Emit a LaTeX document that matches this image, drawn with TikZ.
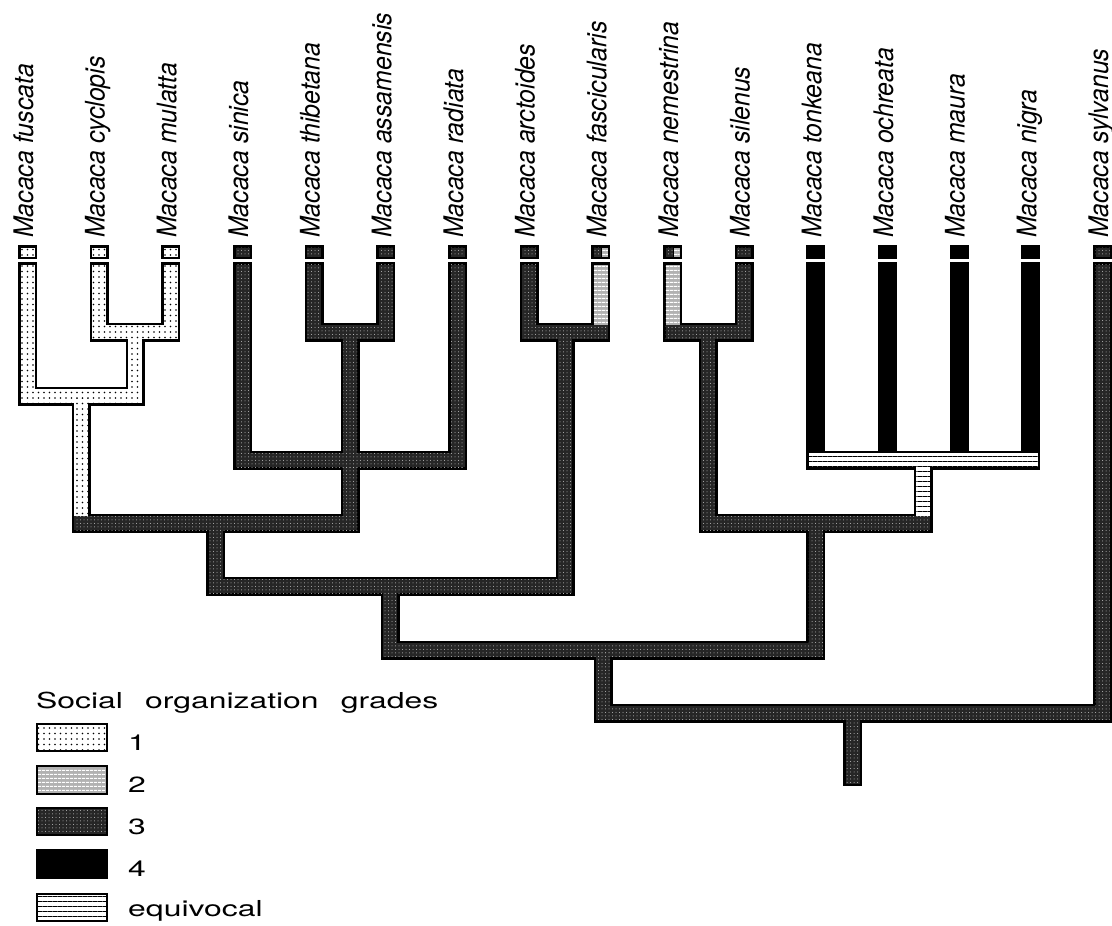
\documentclass[tikz,border=0pt]{standalone}
\usepackage{fontspec}
\setmainfont{TeX Gyre Heros}
\newfontfamily\labfont[FakeStretch=0.92]{TeX Gyre Heros}
\newfontfamily\legfont[FakeStretch=1.45,WordSpace=2.5]{TeX Gyre Heros}
\usetikzlibrary{patterns.meta}
\tikzset{
  gone/.style={preaction={fill=white}, pattern={Dots[distance=5.5pt,radius=0.9pt]}, pattern color=black},
  gtwo/.style={preaction={fill=gray!60}, pattern={Lines[angle=0,distance=4pt,line width=1.2pt]}, pattern color=white},
  gthree/.style={preaction={fill=black!85}, pattern={Dots[distance=3.5pt,radius=0.5pt]}, pattern color=gray!50},
  gfour/.style={fill=black},
  gequiv/.style={preaction={fill=white}, pattern={Lines[angle=0,distance=5pt,line width=0.9pt]}, pattern color=black},
  spname/.style={rotate=90, anchor=base west, inner sep=0pt, font=\labfont\itshape\fontsize{27}{30}\selectfont},
  legtext/.style={anchor=base west, inner sep=0pt, font=\legfont\fontsize{22}{26}\selectfont},
  legbox/.style={draw=black, line width=2.6pt},
}
\newcommand\R[5]{}
\newcommand\Tip[3]{\R{#1}{#2-9.5}{262}{#2+9.5}{#3+9.5}}
\newcommand\VS[4]{\R{#1}{#2-9.5}{#3}{#2+9.5}{#4+9.5}}
\newcommand\HB[4]{\R{#1}{#2-9.5}{#4-9.5}{#3+9.5}{#4+9.5}}
\newcommand\TreeSegs{%
 \Tip{gone}{27.5}{396}
 \Tip{gone}{99.2}{332}
 \Tip{gone}{170.8}{332}
 \Tip{gthree}{242.5}{460}
 \Tip{gthree}{314.2}{332}
 \Tip{gthree}{385.8}{332}
 \Tip{gthree}{457.5}{460}
 \Tip{gthree}{529.2}{332}
 \Tip{gtwo}{600.8}{332}
 \Tip{gtwo}{672.5}{332}
 \Tip{gthree}{744.2}{332}
 \Tip{gfour}{815.8}{460}
 \Tip{gfour}{887.5}{460}
 \Tip{gfour}{959.2}{460}
 \Tip{gfour}{1030.8}{460}
 \Tip{gthree}{1102.5}{713}
 \HB{gone}{99.2}{170.8}{332}
 \HB{gthree}{314.2}{385.8}{332}
 \HB{gthree}{529.2}{600.8}{332}
 \HB{gthree}{672.5}{744.2}{332}
 \VS{gone}{135}{332}{396}
 \VS{gthree}{350}{332}{523}
 \VS{gthree}{565}{332}{586}
 \VS{gthree}{708.3}{332}{523}
 \HB{gone}{27.5}{135}{396}
 \VS{gone}{81.25}{396}{523}
 \HB{gthree}{242.5}{457.5}{460}
 \HB{gequiv}{815.8}{1030.8}{460}
 \VS{gequiv}{923.3}{460}{523}
 \HB{gthree}{81.25}{350}{523}
 \HB{gthree}{708.3}{923.3}{523}
 \VS{gthree}{215.6}{523}{586}
 \VS{gthree}{815.8}{523}{650}
 \HB{gthree}{215.6}{565}{586}
 \VS{gthree}{390.3}{586}{650}
 \HB{gthree}{390.3}{815.8}{650}
 \VS{gthree}{603}{650}{713}
 \HB{gthree}{603}{1102.5}{713}
 \R{gthree}{843.3}{713}{862.3}{786}
}
\newcommand\TipBox[2]{\path[fill=black] ({#2-9.5},245) rectangle ({#2+9.5},259);
  \path[#1] ({#2-7},247.5) rectangle ({#2+7},256.5);}
\newcommand\TipBoxSplit[1]{\path[fill=black] ({#1-9.5},245) rectangle ({#1+9.5},259);
  \path[gthree] ({#1-7},247.5) rectangle ({#1},256.5);
  \path[gtwo] ({#1+1.5},247.5) rectangle ({#1+7},256.5);}
\begin{document}
\begin{tikzpicture}[x=1pt,y=-1pt]
\useasboundingbox (0,0) rectangle (1112,926);
% pass 1: black outlines
\renewcommand\R[5]{\fill[black] ({#2},{#3}) rectangle ({#4},{#5});}
\TreeSegs
% pass 2: grade fills
\renewcommand\R[5]{\path[#1] ({#2+2.5},{#3+2.5}) rectangle ({#4-2.5},{#5-2.5});}
\TreeSegs
% tip boxes
\TipBox{gone}{27.5}
\TipBox{gone}{99.2}
\TipBox{gone}{170.8}
\TipBox{gthree}{242.5}
\TipBox{gthree}{314.2}
\TipBox{gthree}{385.8}
\TipBox{gthree}{457.5}
\TipBox{gthree}{529.2}
\TipBoxSplit{600.8}
\TipBoxSplit{672.5}
\TipBox{gthree}{744.2}
\TipBox{gfour}{815.8}
\TipBox{gfour}{887.5}
\TipBox{gfour}{959.2}
\TipBox{gfour}{1030.8}
\TipBox{gthree}{1102.5}
% species labels
\foreach \i/\nm in {0/fuscata,1/cyclopis,2/mulatta,3/sinica,4/thibetana,5/assamensis,6/radiata,7/arctoides,8/fascicularis,9/nemestrina,10/silenus,11/tonkeana,12/ochreata,13/maura,14/nigra,15/sylvanus}
  \node[spname] (sp\i) at ({27.5+71.67*\i+5.5},238) {Macaca \nm};
% legend
\node[legtext] (legtitle) at (36,708) {Social organization grades};
\path[legbox,gone] (37,724) rectangle (107,751);
\path[legbox,gtwo] (37,766) rectangle (107,794);
\path[legbox,gthree] (37,808) rectangle (107,835);
\path[legbox,gfour] (37,850) rectangle (107,878);
\path[legbox,gequiv] (37,894) rectangle (107,921);
\node[legtext] (leg1) at (128,750) {1};
\node[legtext] (leg2) at (128,792) {2};
\node[legtext] (leg3) at (128,834) {3};
\node[legtext] (leg4) at (128,876) {4};
\node[legtext] (leg5) at (128,916) {equivocal};
\end{tikzpicture}
\end{document}
